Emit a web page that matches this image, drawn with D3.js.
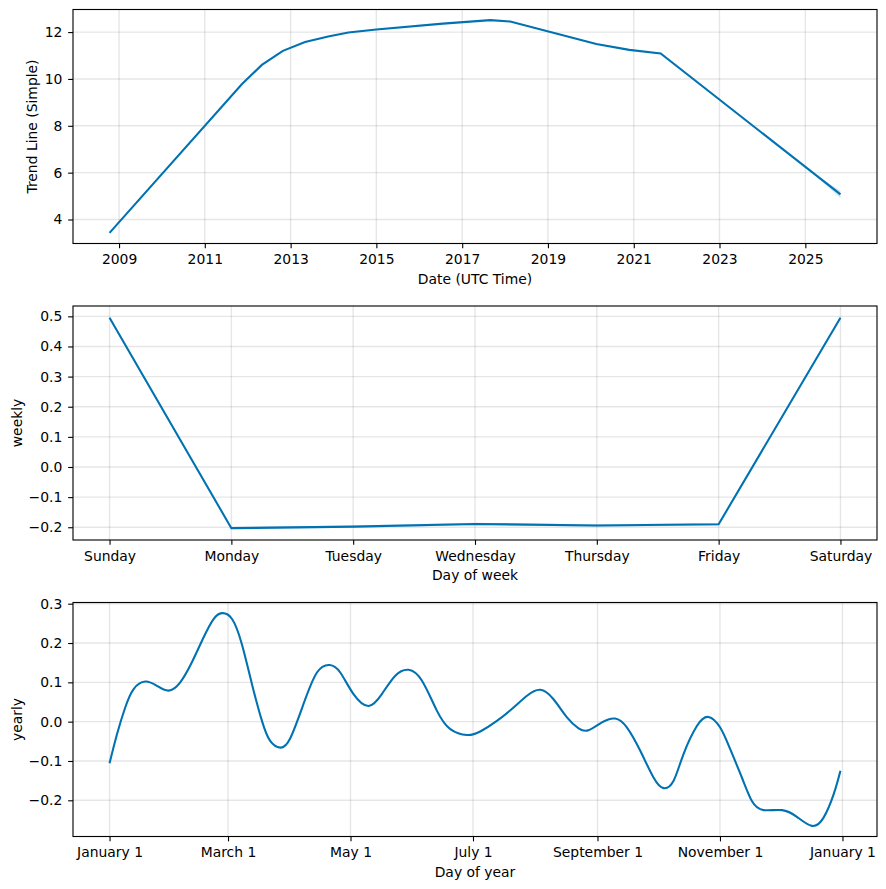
<!DOCTYPE html>
<html>
<head>
<meta charset="utf-8">
<script src="https://cdn.jsdelivr.net/npm/d3@7"></script>
<style>
  html, body { margin: 0; padding: 0; background: #fff; }
  svg { display: block; font-family: "DejaVu Sans", sans-serif; }
  .tick text { font-size: 13.9px; fill: #000; }
</style>
</head>
<body>
<svg id="chart" width="886" height="889"></svg>
<script>
// ---------- DATA ----------
// Trend (piecewise-linear trend component)
const trendDates  = ["2008-10-12","2011-11-14","2012-05-01","2012-10-27","2013-05-04","2013-11-17","2014-05-08","2015-01-01","2016-07-20","2017-08-29","2018-02-14","2020-02-17","2020-11-24","2021-08-18","2025-10-27"];
const trendValues = [3.43, 9.78, 10.60, 11.20, 11.58, 11.81, 11.98, 12.11, 12.36, 12.51, 12.45, 11.49, 11.24, 11.09, 5.07];
// Forecast uncertainty band on the trend
const bandDates = ["2025-01-01","2025-04-01","2025-07-01","2025-10-27"];
const bandLower = [6.25, 5.86, 5.45, 4.92];
const bandUpper = [6.25, 5.92, 5.61, 5.22];
const trendTickYears = [2009, 2011, 2013, 2015, 2017, 2019, 2021, 2023, 2025];
const trendYTicks = [4, 6, 8, 10, 12];

// Weekly seasonality
const weekDays = ["Sunday","Monday","Tuesday","Wednesday","Thursday","Friday","Saturday"];
const weeklyValues = [0.495, -0.203, -0.198, -0.189, -0.194, -0.190, 0.495];
const weeklyLower  = [0.491, -0.207, -0.202, -0.193, -0.198, -0.194, 0.491];
const weeklyUpper  = [0.499, -0.199, -0.194, -0.185, -0.190, -0.186, 0.499];
const weeklyYTicks = [-0.2, -0.1, 0.0, 0.1, 0.2, 0.3, 0.4, 0.5];

// Yearly seasonality (day of year, value)
const yearDays = [0, 3.7, 7.8, 12, 17.8, 23.6, 29.4, 35.2, 41, 46.8, 51.8, 56, 61, 65.9, 70.9, 75.9, 80, 85, 90, 96.6, 103.3, 109.6, 114.9, 121.5, 129, 135.6, 142.3, 148.9, 155.6, 163, 169.7, 178, 184.6, 192.9, 201.2, 207.9, 214.5, 221.1, 227.8, 233.6, 238.5, 245.2, 251.8, 257.7, 264.3, 270.9, 275.9, 280.9, 285.8, 292.5, 298.3, 304.1, 309.1, 314.9, 319.9, 325.7, 334.9, 342.3, 349.8, 355.6, 360.6, 364];
const yearlyValues = [-0.106, -0.032, 0.036, 0.083, 0.102, 0.091, 0.079, 0.100, 0.151, 0.214, 0.261, 0.276, 0.261, 0.197, 0.096, 0.002, -0.049, -0.066, -0.042, 0.045, 0.125, 0.144, 0.125, 0.070, 0.040, 0.070, 0.117, 0.132, 0.104, 0.028, -0.019, -0.034, -0.025, 0.002, 0.036, 0.066, 0.081, 0.057, 0.011, -0.017, -0.022, -0.002, 0.008, -0.015, -0.074, -0.142, -0.169, -0.150, -0.083, -0.011, 0.012, -0.015, -0.070, -0.142, -0.202, -0.225, -0.225, -0.242, -0.265, -0.244, -0.185, -0.125];
const yearlyTickDays = [0, 59, 120, 181, 243, 304, 365];
const yearlyTickLabels = ["January 1","March 1","May 1","July 1","September 1","November 1","January 1"];
const yearlyYTicks = [-0.2, -0.1, 0.0, 0.1, 0.2, 0.3];

// ---------- LAYOUT ----------
const svg = d3.select("#chart");
const L = 73, R = 877, PH = 234;
const tops = [9.5, 306, 602.5];
const COLOR = "#0072B2";
const TICK = 4.86, PAD = 5.8;

function pad(ext) { const a = +ext[0], b = +ext[1]; const d = (b - a) * 0.05; return [a - d, b + d]; }

function panel(top, x, y, xTicks, xFmt, yTicks, yFmt, xlabel, ylabel, ylabelX) {
  const g = svg.append("g");
  // grid
  g.append("g").selectAll("line").data(xTicks).join("line")
    .attr("x1", d => x(d)).attr("x2", d => x(d))
    .attr("y1", top).attr("y2", top + PH)
    .attr("stroke", "gray").attr("stroke-opacity", 0.2).attr("stroke-width", 1.39);
  g.append("g").selectAll("line").data(yTicks).join("line")
    .attr("x1", L).attr("x2", R)
    .attr("y1", d => y(d)).attr("y2", d => y(d))
    .attr("stroke", "gray").attr("stroke-opacity", 0.2).attr("stroke-width", 1.39);
  // axes
  const xa = g.append("g").attr("transform", `translate(0,${top+PH})`)
    .call(d3.axisBottom(x).tickValues(xTicks).tickFormat(xFmt).tickSize(TICK).tickPadding(PAD).tickSizeOuter(0));
  const ya = g.append("g").attr("transform", `translate(${L},0)`)
    .call(d3.axisLeft(y).tickValues(yTicks).tickFormat(yFmt).tickSize(TICK).tickPadding(PAD).tickSizeOuter(0));
  [xa, ya].forEach(a => {
    a.select(".domain").remove();
    a.selectAll(".tick line").attr("stroke", "#000").attr("stroke-width", 1.11);
    a.selectAll(".tick text").attr("font-family", "DejaVu Sans").attr("font-size", 13.9);
  });
  // labels
  g.append("text").attr("x", (L+R)/2).attr("y", top + PH + 40)
    .attr("text-anchor", "middle").attr("font-size", 13.9).text(xlabel);
  g.append("text").attr("transform", `translate(${ylabelX},${top + PH/2}) rotate(-90)`)
    .attr("text-anchor", "middle").attr("font-size", 13.9).text(ylabel);
  return g;
}

function frame(g, top) {
  g.append("rect").attr("x", L).attr("y", top).attr("width", R-L).attr("height", PH)
    .attr("fill", "none").attr("stroke", "#000").attr("stroke-width", 1.11);
}

// ---------- PANEL 1: TREND ----------
{
  const parse = d3.utcParse("%Y-%m-%d");
  const td = trendDates.map(parse);
  const bd = bandDates.map(parse);
  const top = tops[0];
  const x = d3.scaleUtc().domain(pad(d3.extent(td))).range([L, R]);
  const yExt = [Math.min(d3.min(trendValues), d3.min(bandLower)), Math.max(d3.max(trendValues), d3.max(bandUpper))];
  const y = d3.scaleLinear().domain(pad(yExt)).range([top+PH, top]);
  const xt = trendTickYears.map(v => new Date(Date.UTC(v, 0, 1)));
  const g = panel(top, x, y, xt, d3.utcFormat("%Y"), trendYTicks, d3.format("d"), "Date (UTC Time)", "Trend Line (Simple)", 36.5);
  g.append("path").datum(bd.map((d, i) => [d, bandLower[i], bandUpper[i]]))
    .attr("d", d3.area().x(d => x(d[0])).y0(d => y(d[1])).y1(d => y(d[2])))
    .attr("fill", COLOR).attr("fill-opacity", 0.2);
  g.append("path").datum(td.map((d, i) => [d, trendValues[i]]))
    .attr("d", d3.line().x(d => x(d[0])).y(d => y(d[1])))
    .attr("fill", "none").attr("stroke", COLOR).attr("stroke-width", 2.08);
  frame(g, top);
}

// ---------- PANEL 2: WEEKLY ----------
{
  const top = tops[1];
  const idx = weekDays.map((d, i) => i);
  const x = d3.scaleLinear().domain(pad([0, weekDays.length-1])).range([L, R]);
  const y = d3.scaleLinear().domain(pad([d3.min(weeklyLower), d3.max(weeklyUpper)])).range([top+PH, top]);
  const g = panel(top, x, y, idx, i => weekDays[i], weeklyYTicks, d3.format(".1f"), "Day of week", "weekly", 21.5);
  g.append("path").datum(idx)
    .attr("d", d3.area().x(i => x(i)).y0(i => y(weeklyLower[i])).y1(i => y(weeklyUpper[i])))
    .attr("fill", COLOR).attr("fill-opacity", 0.2);
  g.append("path").datum(idx)
    .attr("d", d3.line().x(i => x(i)).y(i => y(weeklyValues[i])))
    .attr("fill", "none").attr("stroke", COLOR).attr("stroke-width", 2.08);
  frame(g, top);
}

// ---------- PANEL 3: YEARLY ----------
{
  const top = tops[2];
  const x = d3.scaleLinear().domain(pad(d3.extent(yearDays))).range([L, R]);
  const y = d3.scaleLinear().domain(pad(d3.extent(yearlyValues))).range([top+PH, top]);
  const g = panel(top, x, y, yearlyTickDays, (d, i) => yearlyTickLabels[i], yearlyYTicks, d3.format(".1f"), "Day of year", "yearly", 21.5);
  g.append("path").datum(yearDays.map((d, i) => [d, yearlyValues[i]]))
    .attr("d", d3.line().x(d => x(d[0])).y(d => y(d[1])).curve(d3.curveNatural))
    .attr("fill", "none").attr("stroke", COLOR).attr("stroke-width", 2.08);
  frame(g, top);
}
</script>
</body>
</html>
